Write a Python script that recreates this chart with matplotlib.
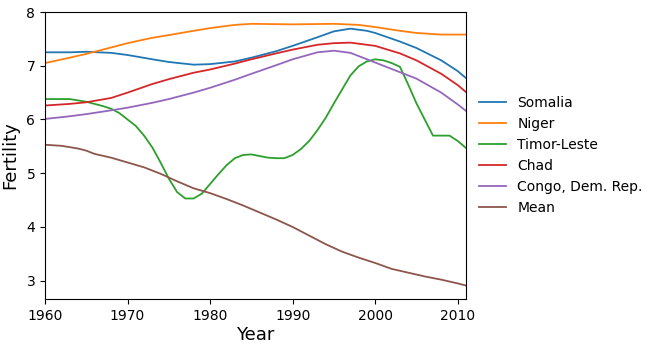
import matplotlib
matplotlib.use("Agg")
import matplotlib.pyplot as plt

# fertility readings (approximate)
somalia_years = [1960, 1963, 1965, 1968, 1970, 1973, 1975, 1978, 1980, 1983, 1985, 1988, 1990, 1993, 1995, 1997, 1999, 2000, 2003, 2005, 2008, 2010, 2011]
somalia = [7.25, 7.25, 7.26, 7.24, 7.2, 7.12, 7.07, 7.02, 7.03, 7.08, 7.15, 7.27, 7.37, 7.53, 7.64, 7.69, 7.65, 7.61, 7.45, 7.33, 7.1, 6.9, 6.77]

niger_years = [1960, 1963, 1965, 1968, 1970, 1973, 1975, 1978, 1980, 1983, 1985, 1990, 1995, 1998, 2000, 2003, 2005, 2008, 2011]
niger = [7.05, 7.15, 7.22, 7.34, 7.42, 7.52, 7.57, 7.65, 7.7, 7.76, 7.78, 7.77, 7.78, 7.76, 7.72, 7.65, 7.61, 7.58, 7.58]

timor_years = [1960, 1963, 1965, 1967, 1968, 1969, 1970, 1971, 1972, 1973, 1974, 1975, 1976, 1977, 1978, 1979, 1980, 1981, 1982, 1983, 1984, 1985, 1986, 1987, 1988, 1989, 1990, 1991, 1992, 1993, 1994, 1995, 1996, 1997, 1998, 1999, 2000, 2001, 2002, 2003, 2004, 2005, 2006, 2007, 2008, 2009, 2010, 2011]
timor = [6.38, 6.38, 6.33, 6.25, 6.2, 6.12, 6.0, 5.88, 5.7, 5.48, 5.2, 4.9, 4.65, 4.53, 4.53, 4.62, 4.8, 4.98, 5.15, 5.28, 5.34, 5.35, 5.32, 5.29, 5.28, 5.28, 5.34, 5.45, 5.6, 5.8, 6.03, 6.3, 6.56, 6.82, 6.99, 7.08, 7.12, 7.1, 7.05, 6.98, 6.65, 6.3, 6.0, 5.7, 5.7, 5.7, 5.6, 5.47]

chad_years = [1960, 1963, 1965, 1968, 1970, 1973, 1975, 1978, 1980, 1983, 1985, 1988, 1990, 1993, 1995, 1997, 2000, 2003, 2005, 2008, 2010, 2011]
chad = [6.26, 6.29, 6.32, 6.4, 6.5, 6.66, 6.75, 6.87, 6.93, 7.04, 7.12, 7.23, 7.3, 7.39, 7.42, 7.43, 7.37, 7.23, 7.1, 6.85, 6.64, 6.51]

congo_years = [1960, 1963, 1965, 1968, 1970, 1973, 1975, 1978, 1980, 1983, 1985, 1988, 1990, 1993, 1995, 1997, 2000, 2003, 2005, 2008, 2010, 2011]
congo = [6.01, 6.06, 6.1, 6.17, 6.22, 6.31, 6.38, 6.5, 6.59, 6.74, 6.85, 7.01, 7.12, 7.25, 7.28, 7.24, 7.06, 6.88, 6.76, 6.5, 6.28, 6.16]

mean_years = [1960, 1962, 1964, 1965, 1966, 1968, 1970, 1972, 1974, 1976, 1978, 1980, 1982, 1984, 1986, 1988, 1990, 1992, 1994, 1996, 1998, 2000, 2002, 2004, 2006, 2008, 2010, 2011]
mean = [5.53, 5.51, 5.46, 5.42, 5.36, 5.29, 5.2, 5.11, 4.99, 4.85, 4.72, 4.63, 4.52, 4.4, 4.27, 4.14, 4.0, 3.84, 3.68, 3.54, 3.43, 3.33, 3.22, 3.15, 3.08, 3.02, 2.95, 2.91]

series = [
    (somalia_years, somalia, "Somalia"),
    (niger_years, niger, "Niger"),
    (timor_years, timor, "Timor-Leste"),
    (chad_years, chad, "Chad"),
    (congo_years, congo, "Congo, Dem. Rep."),
    (mean_years, mean, "Mean"),
]

fig = plt.figure(figsize=(6.57, 3.49), dpi=100)
ax = fig.add_axes([45 / 657, 50 / 349, 421 / 657, 287 / 349])

for yrs, vals, name in series:
    ax.plot(yrs, vals, label=name, linewidth=1.3)

ax.set_xlim(1960, 2011)
ax.set_ylim(2.66, 8.0)
ax.set_xticks([1960, 1970, 1980, 1990, 2000, 2010])
ax.set_yticks([3, 4, 5, 6, 7, 8])
ax.tick_params(labelsize=10)
ax.set_xlabel("Year", fontsize=13, labelpad=2)
ax.set_ylabel("Fertility", fontsize=13, labelpad=5)
ax.legend(loc="center left", bbox_to_anchor=(1.0, 0.5), frameon=False, fontsize=10,
          labelspacing=0.5, handlelength=2.0)

fig.savefig("out.png", dpi=100)
